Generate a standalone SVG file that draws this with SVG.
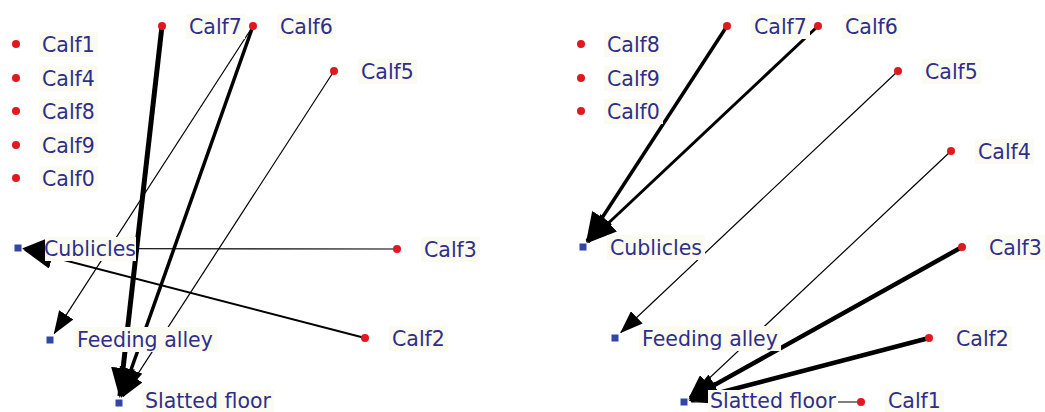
<svg xmlns="http://www.w3.org/2000/svg" width="1045" height="412" viewBox="0 0 1045 412">
<style>
.e{stroke:#000;fill:none;stroke-linecap:butt}
.t{font-family:"DejaVu Sans",Verdana,sans-serif;font-size:20.5px;fill:#2e2e8c}
.bg{fill:#fcfbf1}
.d{fill:#e0191e}
.s{fill:#3346a8}
</style>
<defs>
<marker id="ab" markerUnits="userSpaceOnUse" markerWidth="30" markerHeight="24" refX="28" refY="12" orient="auto" viewBox="0 0 30 24"><path d="M0,0 L30,12 L0,24 z" fill="#000"/></marker>
<marker id="as" markerUnits="userSpaceOnUse" markerWidth="23" markerHeight="17" refX="22" refY="8.5" orient="auto" viewBox="0 0 23 17"><path d="M0,0 L23,8.5 L0,17 z" fill="#000"/></marker>
</defs>
<rect width="1045" height="412" fill="#fff"/>
<g id="connectors">
<line class="e" x1="162" y1="26" x2="119.9" y2="396" stroke-width="5" marker-end="url(#ab)"/>
<line class="e" x1="253" y1="26" x2="121.7" y2="396" stroke-width="3.5" marker-end="url(#ab)"/>
<line class="e" x1="334" y1="71" x2="123.3" y2="396.3" stroke-width="1.2" marker-end="url(#as)"/>
<line class="e" x1="253" y1="26" x2="54.3" y2="333.3" stroke-width="1.2" marker-end="url(#as)"/>
<line class="e" x1="397" y1="249" x2="24" y2="248.5" stroke-width="1.2" marker-end="url(#ab)"/>
<line class="e" x1="365" y1="338" x2="25" y2="250" stroke-width="2" marker-end="url(#ab)"/>
<line class="e" x1="727" y1="26" x2="587" y2="241" stroke-width="3.5" marker-end="url(#ab)"/>
<line class="e" x1="818" y1="26" x2="588.3" y2="242" stroke-width="3" marker-end="url(#ab)"/>
<line class="e" x1="898" y1="71" x2="620.8" y2="332.5" stroke-width="1.2" marker-end="url(#as)"/>
<line class="e" x1="951" y1="151" x2="689.8" y2="396.5" stroke-width="1.2" marker-end="url(#as)"/>
<line class="e" x1="962" y1="247" x2="690" y2="398.6" stroke-width="4.5" marker-end="url(#ab)"/>
<line class="e" x1="929" y1="338" x2="690.5" y2="400.3" stroke-width="4.5" marker-end="url(#ab)"/>
<line class="e" x1="861" y1="402" x2="692" y2="402" stroke-width="1.2"/>
</g>
<g id="L-calf1"><circle class="d" cx="16" cy="44" r="4"/><rect class="bg" x="39" y="32" width="59" height="25"/><text class="t" x="42" y="51.5">Calf1</text></g>
<g id="L-calf4"><circle class="d" cx="16" cy="78" r="4"/><rect class="bg" x="39" y="66" width="59" height="25"/><text class="t" x="42" y="85.5">Calf4</text></g>
<g id="L-calf8"><circle class="d" cx="16" cy="111" r="4"/><rect class="bg" x="39" y="99" width="59" height="25"/><text class="t" x="42" y="118.5">Calf8</text></g>
<g id="L-calf9"><circle class="d" cx="16" cy="145" r="4"/><rect class="bg" x="39" y="133" width="59" height="25"/><text class="t" x="42" y="152.5">Calf9</text></g>
<g id="L-calf0"><circle class="d" cx="16" cy="178" r="4"/><rect class="bg" x="39" y="166" width="59" height="25"/><text class="t" x="42" y="185.5">Calf0</text></g>
<g id="L-calf7"><circle class="d" cx="162" cy="26" r="4"/><rect class="bg" x="186" y="14" width="59" height="25"/><text class="t" x="189" y="33.5">Calf7</text></g>
<g id="L-calf6"><circle class="d" cx="253" cy="26" r="4"/><rect class="bg" x="277" y="14" width="59" height="25"/><text class="t" x="280" y="33.5">Calf6</text></g>
<g id="L-calf5"><circle class="d" cx="334" cy="71" r="4"/><rect class="bg" x="358" y="59" width="59" height="25"/><text class="t" x="361" y="78.5">Calf5</text></g>
<g id="L-calf3"><circle class="d" cx="397" cy="249" r="4"/><rect class="bg" x="421" y="237" width="59" height="25"/><text class="t" x="424" y="256.5">Calf3</text></g>
<g id="L-calf2"><circle class="d" cx="365" cy="338" r="4"/><rect class="bg" x="389" y="326" width="59" height="25"/><text class="t" x="392" y="345.5">Calf2</text></g>
<g id="L-cublicles"><rect class="s" x="14.5" y="244.5" width="7" height="7"/><rect class="bg" x="45" y="237" width="91" height="24"/><text class="t" x="44" y="256">Cublicles</text></g>
<g id="L-feeding"><rect class="s" x="46.5" y="336.5" width="7" height="7"/><rect class="bg" x="74" y="327" width="143" height="25"/><text class="t" x="77" y="347">Feeding alley</text></g>
<g id="L-slatted"><rect class="s" x="115.5" y="399.5" width="7" height="7"/><rect class="bg" x="142" y="390" width="132" height="22"/><text class="t" x="145" y="408">Slatted floor</text></g>
<g id="R-calf8"><circle class="d" cx="581" cy="44" r="4"/><rect class="bg" x="604" y="32" width="59" height="25"/><text class="t" x="607" y="51.5">Calf8</text></g>
<g id="R-calf9"><circle class="d" cx="581" cy="78" r="4"/><rect class="bg" x="604" y="66" width="59" height="25"/><text class="t" x="607" y="85.5">Calf9</text></g>
<g id="R-calf0"><circle class="d" cx="581" cy="111" r="4"/><rect class="bg" x="604" y="99" width="59" height="25"/><text class="t" x="607" y="118.5">Calf0</text></g>
<g id="R-calf7"><circle class="d" cx="727" cy="26" r="4"/><rect class="bg" x="751" y="14" width="59" height="25"/><text class="t" x="754" y="33.5">Calf7</text></g>
<g id="R-calf6"><circle class="d" cx="818" cy="26" r="4"/><rect class="bg" x="842" y="14" width="59" height="25"/><text class="t" x="845" y="33.5">Calf6</text></g>
<g id="R-calf5"><circle class="d" cx="898" cy="71" r="4"/><rect class="bg" x="922" y="59" width="59" height="25"/><text class="t" x="925" y="78.5">Calf5</text></g>
<g id="R-calf4"><circle class="d" cx="951" cy="151" r="4"/><rect class="bg" x="975" y="139" width="59" height="25"/><text class="t" x="978" y="158.5">Calf4</text></g>
<g id="R-calf3"><circle class="d" cx="962" cy="247" r="4"/><rect class="bg" x="986" y="235" width="59" height="25"/><text class="t" x="989" y="254.5">Calf3</text></g>
<g id="R-calf2"><circle class="d" cx="929" cy="338" r="4"/><rect class="bg" x="953" y="326" width="59" height="25"/><text class="t" x="956" y="345.5">Calf2</text></g>
<g id="R-calf1"><circle class="d" cx="861" cy="402" r="4"/><rect class="bg" x="885" y="390" width="59" height="22"/><text class="t" x="888" y="408">Calf1</text></g>
<g id="R-cublicles"><rect class="s" x="579.5" y="243.5" width="7" height="7"/><rect class="bg" x="607" y="235" width="98" height="25"/><text class="t" x="610" y="254.5">Cublicles</text></g>
<g id="R-feeding"><rect class="s" x="611.5" y="334.5" width="7" height="7"/><rect class="bg" x="639" y="326" width="142" height="25"/><text class="t" x="642" y="345.5">Feeding alley</text></g>
<g id="R-slatted"><rect class="s" x="680.5" y="398.5" width="7" height="7"/><rect class="bg" x="708" y="390" width="130" height="22"/><text class="t" x="710" y="408">Slatted floor</text></g>
</svg>
